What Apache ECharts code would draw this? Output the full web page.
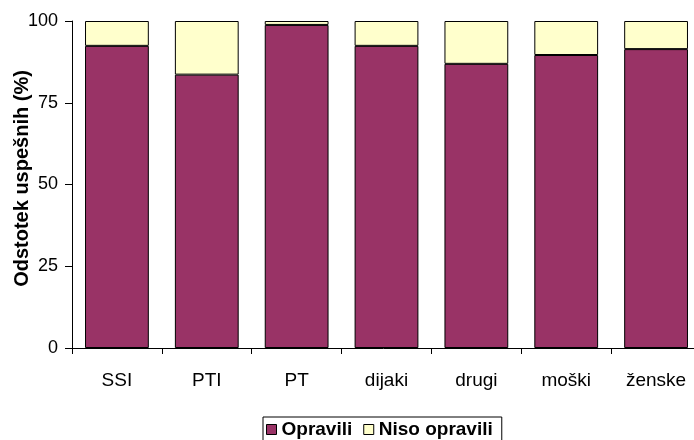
<!DOCTYPE html>
<html>
<head>
<meta charset="utf-8">
<script src="https://cdn.jsdelivr.net/npm/echarts@6/dist/echarts.min.js"></script>
<style>
  html, body { margin: 0; padding: 0; background: #fff; }
  #chart { width: 694px; height: 440px; }
</style>
</head>
<body>
<div id="chart"></div>
<script>
const categories = ['SSI', 'PTI', 'PT', 'dijaki', 'drugi', 'moški', 'ženske']
const opravili = [92.4, 83.6, 98.8, 92.4, 86.9, 89.6, 91.4]
const nisoOpravili = opravili.map(v => +(100 - v).toFixed(1))
const yTicks = [0, 25, 50, 75, 100]

const font = 'Liberation Sans, Arial, sans-serif'

const chart = echarts.init(document.getElementById('chart'))
chart.setOption({
  animation: false,
  grid: { left: 72, right: -7, top: 21, bottom: 92, outerBoundsMode: 'none' },
  legend: {
    top: 417,
    left: 263,
    itemWidth: 10,
    itemHeight: 10,
    itemGap: 11,
    padding: [3, 9, 4, 3],
    borderColor: '#000',
    borderWidth: 1,
    icon: 'rect',
    textStyle: { fontFamily: font, fontSize: 19, fontWeight: 'bold', color: '#000' },
    data: [
      { name: 'Opravili', itemStyle: { borderColor: '#000', borderWidth: 1 } },
      { name: 'Niso opravili', itemStyle: { borderColor: '#000', borderWidth: 1 } }
    ]
  },
  xAxis: {
    type: 'category',
    data: categories,
    axisLine: { lineStyle: { color: '#000' } },
    axisTick: { show: true, length: 6, lineStyle: { color: '#000' } },
    axisLabel: { fontFamily: font, fontSize: 19, color: '#000', margin: 23 }
  },
  yAxis: {
    type: 'value',
    min: 0,
    max: 100,
    interval: 25,
    name: 'Odstotek uspešnih (%)',
    nameLocation: 'middle',
    nameGap: 40,
    nameMoveOverlap: false,
    nameTextStyle: { fontFamily: font, fontSize: 20, fontWeight: 'bold', color: '#000', padding: [0, 0, 0, 12] },
    axisLine: { show: true, lineStyle: { color: '#000' } },
    axisTick: { show: true, length: 7, lineStyle: { color: '#000' } },
    splitLine: { show: false },
    axisLabel: {
      fontFamily: font, fontSize: 18, color: '#000', margin: 14,
      formatter: v => yTicks.includes(v) ? String(v) : ''
    }
  },
  series: [
    {
      name: 'Opravili',
      type: 'bar',
      stack: 'total',
      barCategoryGap: '29%',
      data: opravili,
      itemStyle: { color: '#993366', borderColor: '#000', borderWidth: 1 }
    },
    {
      name: 'Niso opravili',
      type: 'bar',
      stack: 'total',
      data: nisoOpravili,
      itemStyle: { color: '#FFFFCC', borderColor: '#000', borderWidth: 1 }
    }
  ]
})
window.addEventListener('resize', () => chart.resize())
</script>
</body>
</html>
